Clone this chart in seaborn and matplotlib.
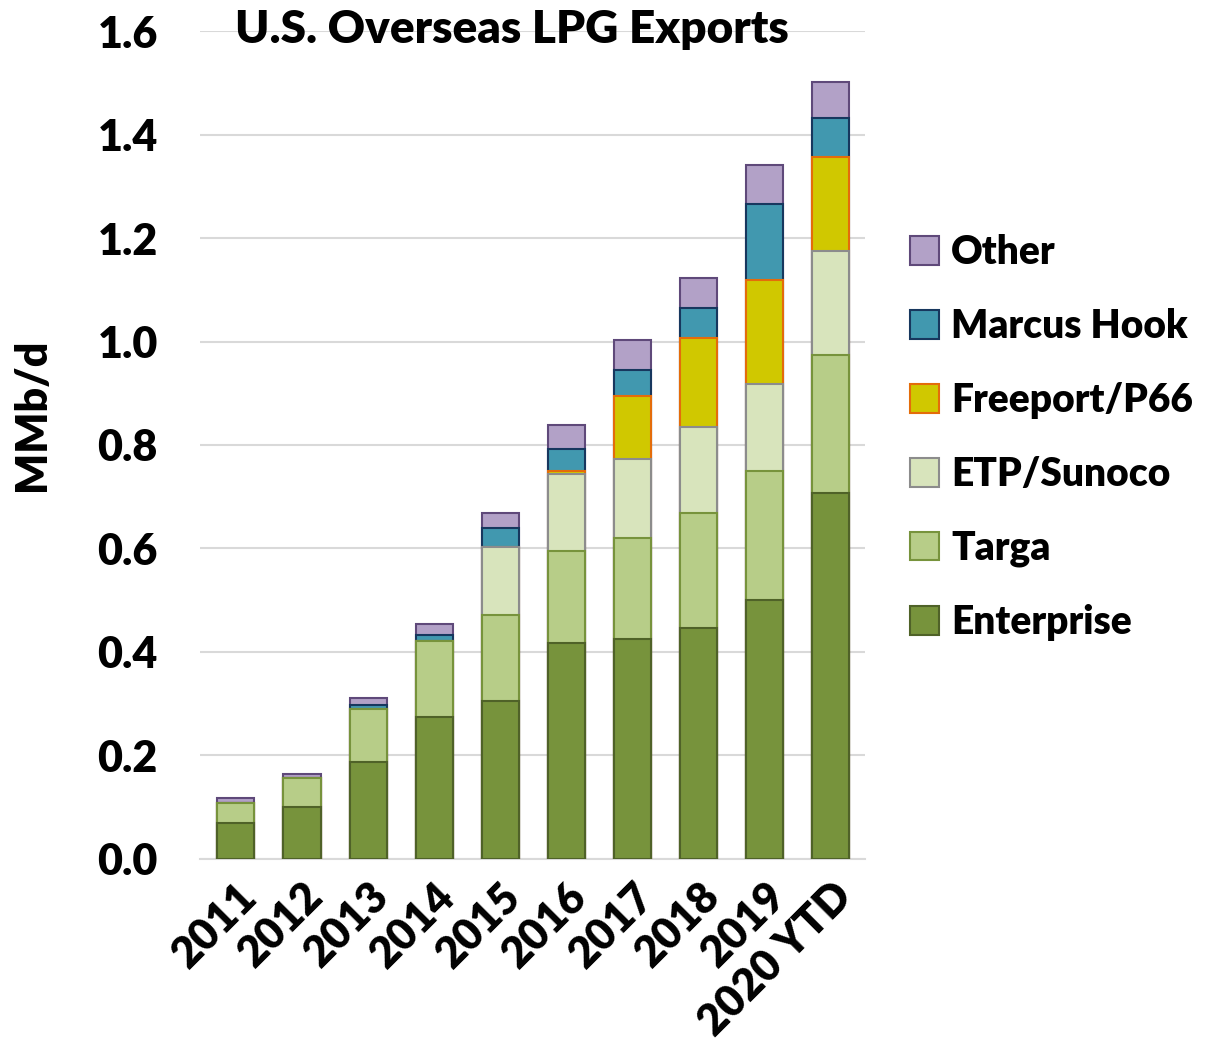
import numpy as np
import pandas as pd
import matplotlib
matplotlib.use("Agg")
import matplotlib.pyplot as plt
import seaborn as sns
from matplotlib.patches import Patch

# ================================
# Data (MMb/d)
# ================================
years = ["2011", "2012", "2013", "2014", "2015", "2016", "2017", "2018", "2019", "2020 YTD"]

enterprise = [0.070, 0.100, 0.187, 0.274, 0.306, 0.418, 0.426, 0.446, 0.500, 0.707]
targa      = [0.038, 0.057, 0.102, 0.148, 0.165, 0.177, 0.194, 0.223, 0.250, 0.267]
etp_sunoco = [0.000, 0.000, 0.000, 0.000, 0.131, 0.148, 0.152, 0.165, 0.167, 0.201]
freeport   = [0.000, 0.000, 0.000, 0.000, 0.000, 0.007, 0.123, 0.173, 0.201, 0.181]
marcus     = [0.000, 0.000, 0.008, 0.011, 0.038, 0.042, 0.050, 0.058, 0.148, 0.075]
other      = [0.010, 0.007, 0.015, 0.022, 0.029, 0.046, 0.058, 0.058, 0.075, 0.070]

series_names = ["Enterprise", "Targa", "ETP/Sunoco", "Freeport/P66", "Marcus Hook", "Other"]
fills = ["#77933c", "#b7cd88", "#d8e4bc", "#d0c800", "#4198af", "#b2a1c7"]
edges = ["#4f6228", "#77933c", "#8c8c8c", "#e46c0a", "#17375e", "#5f497a"]

df = pd.DataFrame(
    {"year": years, "Enterprise": enterprise, "Targa": targa, "ETP/Sunoco": etp_sunoco,
     "Freeport/P66": freeport, "Marcus Hook": marcus, "Other": other}
)

# cumulative totals for stacking
cum = df[series_names].cumsum(axis=1)

# ================================
# Plot
# ================================
sns.set_style("white", {"text.color": "black", "xtick.color": "black",
                        "ytick.color": "black", "axes.labelcolor": "black"})
plt.rcParams["font.family"] = ["Lato", "DejaVu Sans"]
plt.rcParams["font.weight"] = "heavy"
W = "heavy"
FS = 31

fig = plt.figure(figsize=(12.24, 10.52), dpi=100)
ax = fig.add_axes([0.163, 0.1835, 0.544, 0.787])

# draw tallest stack first, lower stacks on top of it
for i in reversed(range(len(series_names))):
    sns.barplot(x=df["year"], y=cum[series_names[i]], color=fills[i], edgecolor=edges[i],
                linewidth=1.5, width=0.56, saturation=1, ax=ax, zorder=3)

ax.set_ylim(0, 1.6)
ax.set_xlim(-0.55, 9.52)
ax.set_yticks(np.arange(0, 1.61, 0.2))
ax.set_yticklabels([f"{v:.1f}" for v in np.arange(0, 1.61, 0.2)], fontsize=FS, fontweight=W)
ax.set_xticks(range(len(years)))
ax.set_xticklabels(years, rotation=45, ha="right", rotation_mode="anchor",
                   fontsize=FS, fontweight=W)
ax.tick_params(axis="x", length=0, pad=12)
ax.tick_params(axis="y", length=0, pad=30)

ax.yaxis.grid(True, color="#d9d9d9", linewidth=1.5, zorder=0)
ax.set_axisbelow(True)
for s in ["top", "right", "left"]:
    ax.spines[s].set_visible(False)
ax.spines["bottom"].set_color("#d9d9d9")
ax.spines["bottom"].set_linewidth(1.5)

ax.set_xlabel("")
ax.set_ylabel("MMb/d", fontsize=FS, fontweight=W)
ax.yaxis.set_label_coords(-0.222, 0.536)

fig.text(0.418, 0.972, "U.S. Overseas LPG Exports", ha="center", va="center",
         fontsize=33, fontweight=W)

handles = [Patch(facecolor=fills[i], edgecolor=edges[i], linewidth=1.5, label=series_names[i])
           for i in reversed(range(len(series_names)))]
fig.legend(handles=handles, loc="center left", bbox_to_anchor=(0.731, 0.584), frameon=False,
           prop={"size": 28, "weight": W}, handlelength=0.75, handleheight=0.75,
           handletextpad=0.3, labelspacing=0.95, borderaxespad=0)

fig.savefig("out.png", dpi=100)
